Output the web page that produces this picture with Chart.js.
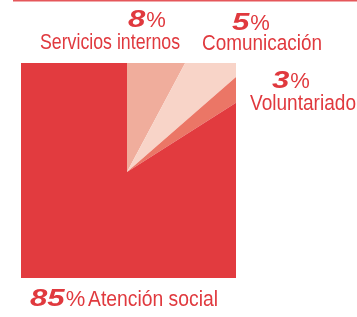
<!DOCTYPE html>
<html lang="es">
<head>
    <meta charset="UTF-8">
    <title>Distribución</title>
    <style>
        body {
            margin: 0;
            background-color: #ffffff;
        }
        #wrap {
            width: 357px;
            height: 317px;
        }
    </style>
    <script src="https://cdn.jsdelivr.net/npm/chart.js"></script>
</head>
<body>
    <div id="wrap">
        <canvas id="pieChart" width="357" height="317"></canvas>
    </div>

    <script>
        const categories = ['Servicios internos', 'Comunicación', 'Voluntariado', 'Atención social'];
        // slice sizes as drawn in the picture, and the rounded figures printed beside them
        const shares = [7.8, 5.8, 2.4, 84];
        const printedShares = ['8', '5', '3', '85'];
        const sliceColors = ['#F0AD9C', '#F8D4C8', '#EB7666', '#E23B3F'];

        // [x of number, baseline of number, x of name, baseline of name, width of name]
        const captionSpots = [
            [128, 27, 40, 49, 140],
            [232, 30, 202, 50, 120],
            [272, 88, 250, 110, 106],
            [30, 306, 88, 306, 130]
        ];

        const textRed = '#E0393E';

        const captions = {
            id: 'captions',
            afterDraw(chart) {
                const ctx = chart.ctx;
                ctx.save();
                // thin rule along the top
                ctx.fillStyle = '#E5575A';
                ctx.fillRect(13, 0, 344, 1.5);

                ctx.fillStyle = textRed;
                ctx.textBaseline = 'alphabetic';
                ctx.textAlign = 'left';
                categories.forEach((name, i) => {
                    const [nx, ny, tx, ty, tw] = captionSpots[i];
                    const num = printedShares[i];

                    // wide italic figures
                    ctx.font = 'italic bold 24px "Liberation Sans"';
                    const w = ctx.measureText(num).width * 1.3;
                    ctx.save();
                    ctx.translate(nx, ny);
                    ctx.scale(1.3, 1);
                    ctx.fillText(num, 0, 0);
                    ctx.restore();

                    ctx.font = '22px "Liberation Sans"';
                    ctx.fillText('%', nx + w + 1, ny);

                    // condensed look: squeeze the regular face sideways
                    const nameW = ctx.measureText(name).width;
                    ctx.save();
                    ctx.translate(tx, ty);
                    ctx.scale(tw / nameW, 1);
                    ctx.fillText(name, 0, 0);
                    ctx.restore();
                });
                ctx.restore();
            }
        };

        new Chart(document.getElementById('pieChart').getContext('2d'), {
            type: 'pie',
            data: {
                labels: categories,
                datasets: [{
                    data: shares,
                    backgroundColor: sliceColors,
                    borderWidth: 0,
                    radius: 200,
                    clip: { left: 0, top: 0, right: 3, bottom: -3 }
                }]
            },
            options: {
                responsive: false,
                animation: false,
                layout: {
                    padding: { left: 21, right: 124, top: 63, bottom: 36 }
                },
                plugins: {
                    legend: { display: false },
                    tooltip: { enabled: false }
                }
            },
            plugins: [captions]
        });
    </script>
</body>
</html>
